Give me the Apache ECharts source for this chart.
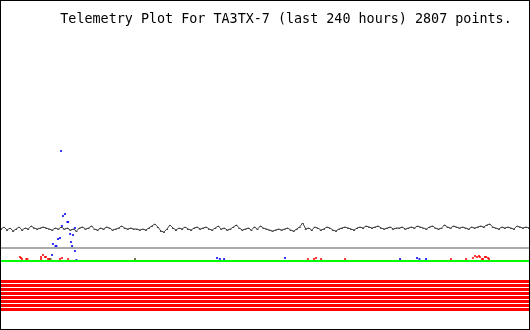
<!DOCTYPE html>
<html><head><meta charset="utf-8">
<script src="https://cdn.jsdelivr.net/npm/echarts@6/dist/echarts.min.js"></script>
<style>
html,body{margin:0;padding:0;background:#fff;}
#c{width:530px;height:330px;box-sizing:border-box;border:1px solid #000;}
</style></head><body>
<div id="c"></div>
<script>
// Time span in hours
const HOURS = 240;
const titleText = 'Telemetry Plot For TA3TX-7 (last 240 hours) 2807 points.';
// Main (black) telemetry trace, evenly spaced over the 240 hours
const blackVals = [
101,103,100,102,99,101,103,100,102,101,104,102,101,102,103,102,101,100,102,101,103,101,102,100,101,99,102,103,101,102,104,101,100,102,101,103,102,100,101,102,104,102,101,102,
101,101,100,101,100,102,104,106,103,99,98,101,105,102,100,102,101,103,101,100,102,103,101,102,103,101,100,102,104,101,102,100,101,103,105,102,100,101,102,100,103,101,104,102,
101,100,99,100,101,100,101,102,100,99,101,103,107,101,102,100,103,102,100,101,103,102,100,99,101,102,103,102,101,100,102,103,102,104,103,102,103,104,102,101,102,103,101,102,
102,103,101,102,103,102,104,103,102,101,103,104,102,101,102,105,103,102,104,103,102,103,102,101,103,102,103,104,103,105,106,103,102,101,103,102,103,102,101,104,103,102,103,102
];
// Constant reference levels
const grayLevel = 82;
const greenLevel = 69;
const redStripeLevels = [48.5,44.5,40.5,36.5,32.5,28.5,24.5,20.5];
// Blue samples [hour, value]
const bluePts = [
[27.3,179],[29.1,116],[28.2,114],[30.2,108],[30.5,108],[27.7,104],[33.6,102],[32.7,95],[31.4,96],
[26.8,92],[25.9,91],[23.6,86],[24.8,84],[25.2,84],[31.8,88],[32.3,84],[33.6,79],[23.2,75],[34.3,70],
[98.2,72],[99.5,71],[101.4,71],[129.1,72],[181.4,71],[189.1,72],[190.2,71],[193.2,71]
];
// Red samples [hour, value]
const redPts = [
[8.6,73],[9.1,72],[9.5,71],[11.5,71],[12.0,71],[19.1,75],[20.0,73],[20.4,73],[18.2,73],[18.2,71],
[21.4,71],[22.0,71],[26.8,71],[27.7,72],[30.5,71],[139.5,71],[142.3,71],[143.2,72],[145.5,71],[156.4,71],
[204.5,71],[211.4,71],[214.5,72],[215.5,74],[216.4,73],[217.3,74],[217.7,73],[218.6,71],[219.1,71],
[220.0,73],[220.5,73],[221.4,72],[221.8,71]
];
const darkPts = [[60.9,71],[22.5,71]];

const chart = echarts.init(document.getElementById('c'), null, {renderer:'canvas'});
const flat = (lvl) => [[0,lvl],[HOURS,lvl]];
const blackData = blackVals.map((v,i)=>[i*HOURS/(blackVals.length-1), v]);
const series = [];
redStripeLevels.forEach(l => series.push({type:'line', data:flat(l), showSymbol:false, silent:true,
  lineStyle:{color:'#ff0000', width:3}}));
series.push({type:'line', data:flat(grayLevel), showSymbol:false, lineStyle:{color:'#aaaaaa', width:2}});
series.push({type:'line', data:flat(greenLevel), showSymbol:false, lineStyle:{color:'#00ff00', width:2}});
series.push({type:'line', showSymbol:false, data: blackData, lineStyle:{color:'#444444', width:1}});
series.push({type:'scatter', symbol:'rect', symbolSize:[2,1], symbolOffset:[0,0.5],
  data: blackData, itemStyle:{color:'#222222'}});
series.push({type:'scatter', data:redPts, symbol:'rect', symbolSize:[2,2], itemStyle:{color:'#ff0000'}});
series.push({type:'scatter', data:darkPts, symbol:'rect', symbolSize:[2,2], itemStyle:{color:'#505020'}});
series.push({type:'scatter', data:bluePts, symbol:'rect', symbolSize:[2,2], itemStyle:{color:'#0000ff'}});

chart.setOption({
  animation:false,
  grid:{left:0,right:0,top:0,bottom:0},
  xAxis:{type:'value', min:0, max:HOURS, show:false},
  yAxis:{type:'value', min:1, max:329, show:false},
  graphic:[{type:'text', x:285, y:12, style:{text:titleText, fill:'#000',
    font:'13.4px "DejaVu Sans Mono"', textAlign:'center', textVerticalAlign:'top'}}],
  series: series
});
</script>
</body></html>
